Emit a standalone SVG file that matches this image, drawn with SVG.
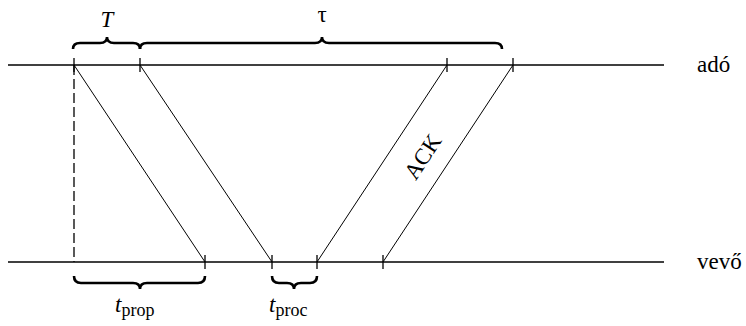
<svg xmlns="http://www.w3.org/2000/svg" width="746" height="326" viewBox="0 0 746 326">
<style>
.ln{stroke:#000;stroke-width:1.3;fill:none}
.th{stroke:#000;stroke-width:1;fill:none}
.br{stroke:#000;stroke-width:2.6;fill:none}
.tx{font-family:"Liberation Serif",serif;font-size:23px;fill:#000}
.it{font-style:italic}
</style>
<rect width="746" height="326" fill="#fff"/>
<g id="adó-line">
<line class="ln" x1="8" y1="65" x2="664" y2="65"/>
<text class="tx" x="697" y="72">adó</text>
</g>
<g id="vevő-line">
<line class="ln" x1="8" y1="262" x2="664" y2="262"/>
<text class="tx" x="697" y="269">vevő</text>
</g>
<g id="ticks">
<line class="ln" x1="74" y1="58" x2="74" y2="72"/>
<line class="ln" x1="140" y1="58" x2="140" y2="72"/>
<line class="ln" x1="447" y1="58" x2="447" y2="72"/>
<line class="ln" x1="513" y1="58" x2="513" y2="72"/>
<line class="ln" x1="205" y1="255" x2="205" y2="269"/>
<line class="ln" x1="272" y1="255" x2="272" y2="269"/>
<line class="ln" x1="317" y1="255" x2="317" y2="269"/>
<line class="ln" x1="383" y1="255" x2="383" y2="269"/>
</g>
<g id="connectors">
<line class="ln" x1="74" y1="65" x2="74" y2="262" stroke-dasharray="10,4"/>
<line class="th" x1="74" y1="65" x2="205" y2="262"/>
<line class="th" x1="140" y1="65" x2="272" y2="262"/>
<line class="th" x1="317" y1="262" x2="447" y2="65"/>
<line class="th" x1="383" y1="262" x2="513" y2="65"/>
</g>
<g id="brace-T">
<path class="br" d="M73,49 Q73,43 80,43 L100,43 Q107,43 107,37 Q107,43 114,43 L133,43 Q140,43 140,49"/>
<text class="tx it" x="107" y="27" text-anchor="middle" font-size="25">T</text>
</g>
<g id="brace-tau">
<path class="br" d="M140,49 Q140,43 147,43 L315,43 Q322,43 322,37 Q322,43 329,43 L495,43 Q502,43 502,49"/>
<text class="tx" x="322" y="22" text-anchor="middle" font-size="23">τ</text>
</g>
<g id="brace-tprop">
<path class="br" d="M74,276 Q74,283 81,283 L133,283 Q140,283 140,289 Q140,283 147,283 L198,283 Q205,283 205,276"/>
<text class="tx" x="115" y="312"><tspan class="it">t</tspan><tspan font-size="18" dy="4">prop</tspan></text>
</g>
<g id="brace-tproc">
<path class="br" d="M272,276 Q272,283 279,283 L287,283 Q294,283 294,289 Q294,283 301,283 L310,283 Q317,283 317,276"/>
<text class="tx" x="269" y="312"><tspan class="it">t</tspan><tspan font-size="18" dy="4">proc</tspan></text>
</g>
<g id="ack">
<text class="tx" x="0" y="0" text-anchor="middle" transform="translate(429,161) rotate(-56.6)">ACK</text>
</g>
</svg>
